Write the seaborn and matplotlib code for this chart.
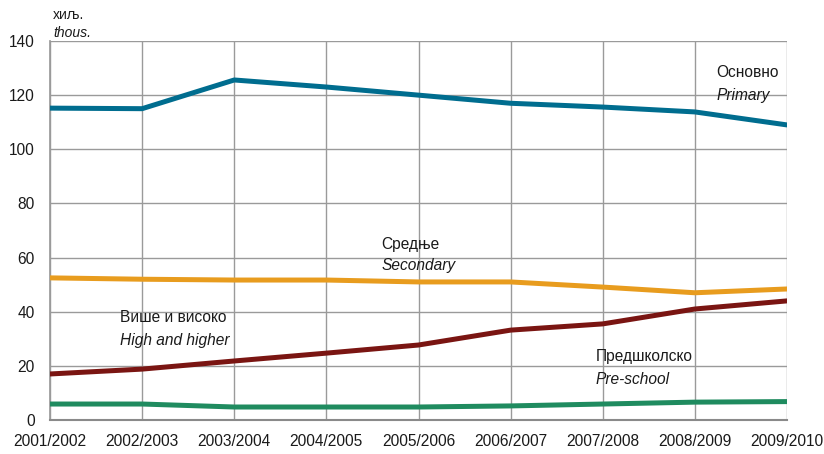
import matplotlib
matplotlib.use("Agg")
import matplotlib.pyplot as plt
import seaborn as sns
import pandas as pd

years = ["2001/2002", "2002/2003", "2003/2004", "2004/2005", "2005/2006",
         "2006/2007", "2007/2008", "2008/2009", "2009/2010"]
primary = [115.2, 115.0, 125.6, 123.0, 120.0, 117.0, 115.6, 113.8, 109.0]
secondary = [52.5, 52.0, 51.7, 51.7, 51.0, 51.0, 49.1, 47.0, 48.4]
higher = [17.0, 18.8, 21.8, 24.7, 27.7, 33.2, 35.5, 41.0, 44.0]
preschool = [5.9, 5.9, 4.8, 4.8, 4.8, 5.2, 5.9, 6.6, 6.8]

series_names = ["primary", "secondary", "higher", "preschool"]
series_values = [primary, secondary, higher, preschool]
colors = {"primary": "#006d8f", "secondary": "#e89c1e",
          "higher": "#7a1512", "preschool": "#1f8b5f"}

rows = []
for name, vals in zip(series_names, series_values):
    for i, (yr, v) in enumerate(zip(years, vals)):
        rows.append({"idx": i, "year": yr, "value": v, "series": name})
df = pd.DataFrame(rows)

sns.set_theme(style="white")
plt.rcParams['font.family'] = ['Liberation Sans', 'DejaVu Sans']

fig = plt.figure(figsize=(8.24, 4.54), dpi=100)
ax = fig.add_axes([50/824, 1-420/454, (787-50)/824, (420-41)/454])

sns.lineplot(data=df, x="idx", y="value", hue="series", palette=colors,
             linewidth=3.6, legend=False, ax=ax, zorder=3)

ax.set_xlim(0, len(years)-1)
ax.set_ylim(0, 140)
ax.set_xticks(range(len(years)))
ax.set_xticklabels(years)
ax.set_yticks(range(0, 141, 20))
ax.grid(True, color="#9a9a9a", linewidth=1.0)
ax.set_axisbelow(True)
for s in ax.spines.values():
    s.set_visible(False)
ax.spines['left'].set_visible(True)
ax.spines['bottom'].set_visible(True)
ax.spines['left'].set_color("#9a9a9a")
ax.spines['bottom'].set_color("#8a8a8a")
ax.spines['bottom'].set_linewidth(1.5)
ax.tick_params(axis='both', labelsize=11.2, colors="#1a1a1a", length=0)
ax.tick_params(axis='x', pad=10)
ax.tick_params(axis='y', pad=11)
ax.set_xlabel("")
ax.set_ylabel("")

fig.text(53/824, 1-15/454, "хиљ.", fontsize=10, va="center", ha="left", color="#1a1a1a")
fig.text(53/824, 1-33/454, "thous.", fontsize=10, va="center", ha="left",
         style="italic", color="#1a1a1a")

labels = [
    (7.23, 128.2, "Основно", 120.0, "Primary"),
    (3.60, 65.0, "Средње", 57.0, "Secondary"),
    (0.76, 37.7, "Више и високо", 29.5, "High and higher"),
    (5.92, 23.3, "Предшколско", 14.8, "Pre-school"),
]
for x, y1, t1, y2, t2 in labels:
    ax.text(x, y1, t1, fontsize=11.2, ha="left", va="center", color="#1a1a1a")
    ax.text(x, y2, t2, fontsize=11.2, ha="left", va="center", style="italic", color="#1a1a1a")

fig.savefig("out.png", dpi=100)
